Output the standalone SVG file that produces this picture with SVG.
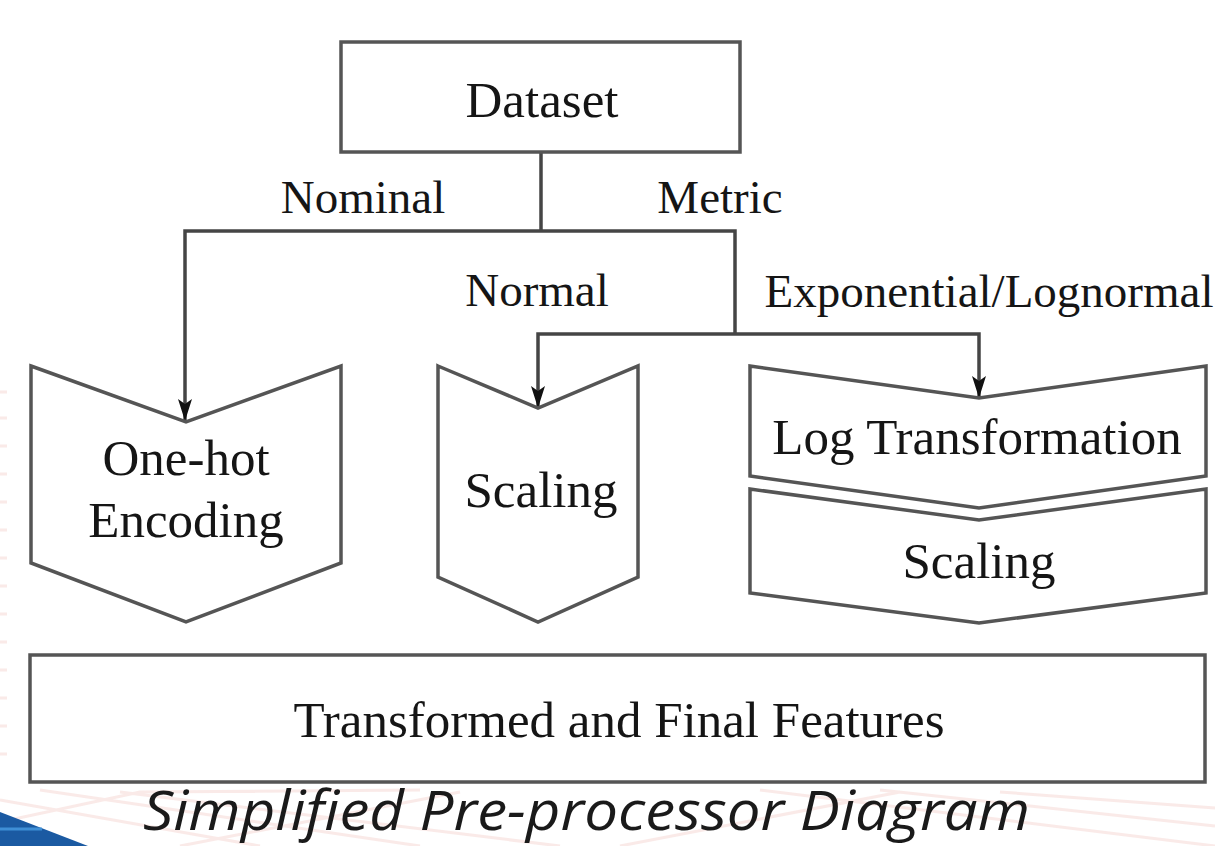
<svg xmlns="http://www.w3.org/2000/svg" width="1215" height="846" viewBox="0 0 1215 846">
  <defs>
    <style>
      .shape { fill: #ffffff; stroke: #555555; stroke-width: 3.5; stroke-linejoin: miter; }
      .conn { fill: none; stroke: #454545; stroke-width: 3.5; }
      .node-text { font-family: "Liberation Serif", "Times New Roman", serif; font-size: 51px; fill: #151515; text-anchor: middle; }
      .label { font-family: "Liberation Serif", "Times New Roman", serif; font-size: 47px; fill: #151515; text-anchor: middle; }
      .caption { font-family: "Open Sans", "Noto Sans", sans-serif; font-style: italic; font-size: 54px; fill: #1a1a1a; }
      .deco { stroke: #f6d6d2; stroke-width: 3; fill: none; opacity: 0.5; }
    </style>
    <marker id="arrow" markerUnits="userSpaceOnUse" viewBox="0 0 22 14" refX="22" refY="7" markerWidth="22" markerHeight="14" orient="auto">
      <path d="M0,0 L22,7 L0,14 L5,7 z" fill="#111111"/>
    </marker>
  </defs>

  <rect x="0" y="0" width="1215" height="846" fill="#ffffff"/>

  <!-- faint background line pattern -->
  <g id="background">
    <path class="deco" d="M0,392 H7 M0,418 H7 M0,446 H7 M0,474 H7 M0,502 H7 M0,530 H7 M0,558 H7 M0,586 H7 M0,614 H7 M0,642 H7 M0,670 H7 M0,698 H7 M0,726 H7 M0,754 H7"/>
    <path class="deco" d="M0,800 L260,846 M40,790 L420,846 M120,792 L560,846 M0,822 L140,792 L420,790 M180,846 L460,792 M760,790 L1215,846 M880,790 L1215,826 M1000,792 L1215,808 M620,846 L900,792"/>
    <polygon points="0,812 88,846 0,846" fill="#1b5aa2"/>
    <path d="M0,829 L42,829" stroke="#3f8fd6" stroke-width="3"/>
  </g>

  <!-- connectors -->
  <g id="connectors">
    <path class="conn" d="M541,152 V231"/>
    <path class="conn" d="M541,231 H185 V421" marker-end="url(#arrow)"/>
    <path class="conn" d="M541,231 H735 V334"/>
    <path class="conn" d="M735,334 H538 V408" marker-end="url(#arrow)"/>
    <path class="conn" d="M735,334 H979 V398" marker-end="url(#arrow)"/>
  </g>

  <!-- branch labels -->
  <g id="labels">
    <text class="label" x="363" y="213">Nominal</text>
    <text class="label" x="720" y="213">Metric</text>
    <text class="label" x="537" y="306">Normal</text>
    <text class="label" x="989" y="307">Exponential/Lognormal</text>
  </g>

  <g id="dataset">
    <rect class="shape" x="341" y="42" width="399" height="110"/>
    <text class="node-text" x="542" y="117">Dataset</text>
  </g>

  <g id="one-hot-encoding">
    <polygon class="shape" points="31,366 186,422 341,366 341,563 186,622 31,563"/>
    <text class="node-text" x="186" y="475">One-hot</text>
    <text class="node-text" x="186" y="537">Encoding</text>
  </g>

  <g id="scaling-normal">
    <polygon class="shape" points="438,366 538,408 638,366 638,577 538,622 438,577"/>
    <text class="node-text" x="541" y="507">Scaling</text>
  </g>

  <g id="log-transformation">
    <polygon class="shape" points="750,366 979,398 1206,366 1206,476 979,508 750,476"/>
    <text class="node-text" x="977" y="454">Log Transformation</text>
  </g>

  <g id="scaling-log">
    <polygon class="shape" points="750,489 979,520 1206,489 1206,593 979,623 750,593"/>
    <text class="node-text" x="979" y="578">Scaling</text>
  </g>

  <g id="final-features">
    <rect class="shape" x="30" y="655" width="1175" height="127"/>
    <text class="node-text" x="619" y="737">Transformed and Final Features</text>
  </g>

  <text class="caption" x="143" y="830" textLength="887" lengthAdjust="spacingAndGlyphs">Simplified Pre-processor Diagram</text>
</svg>
